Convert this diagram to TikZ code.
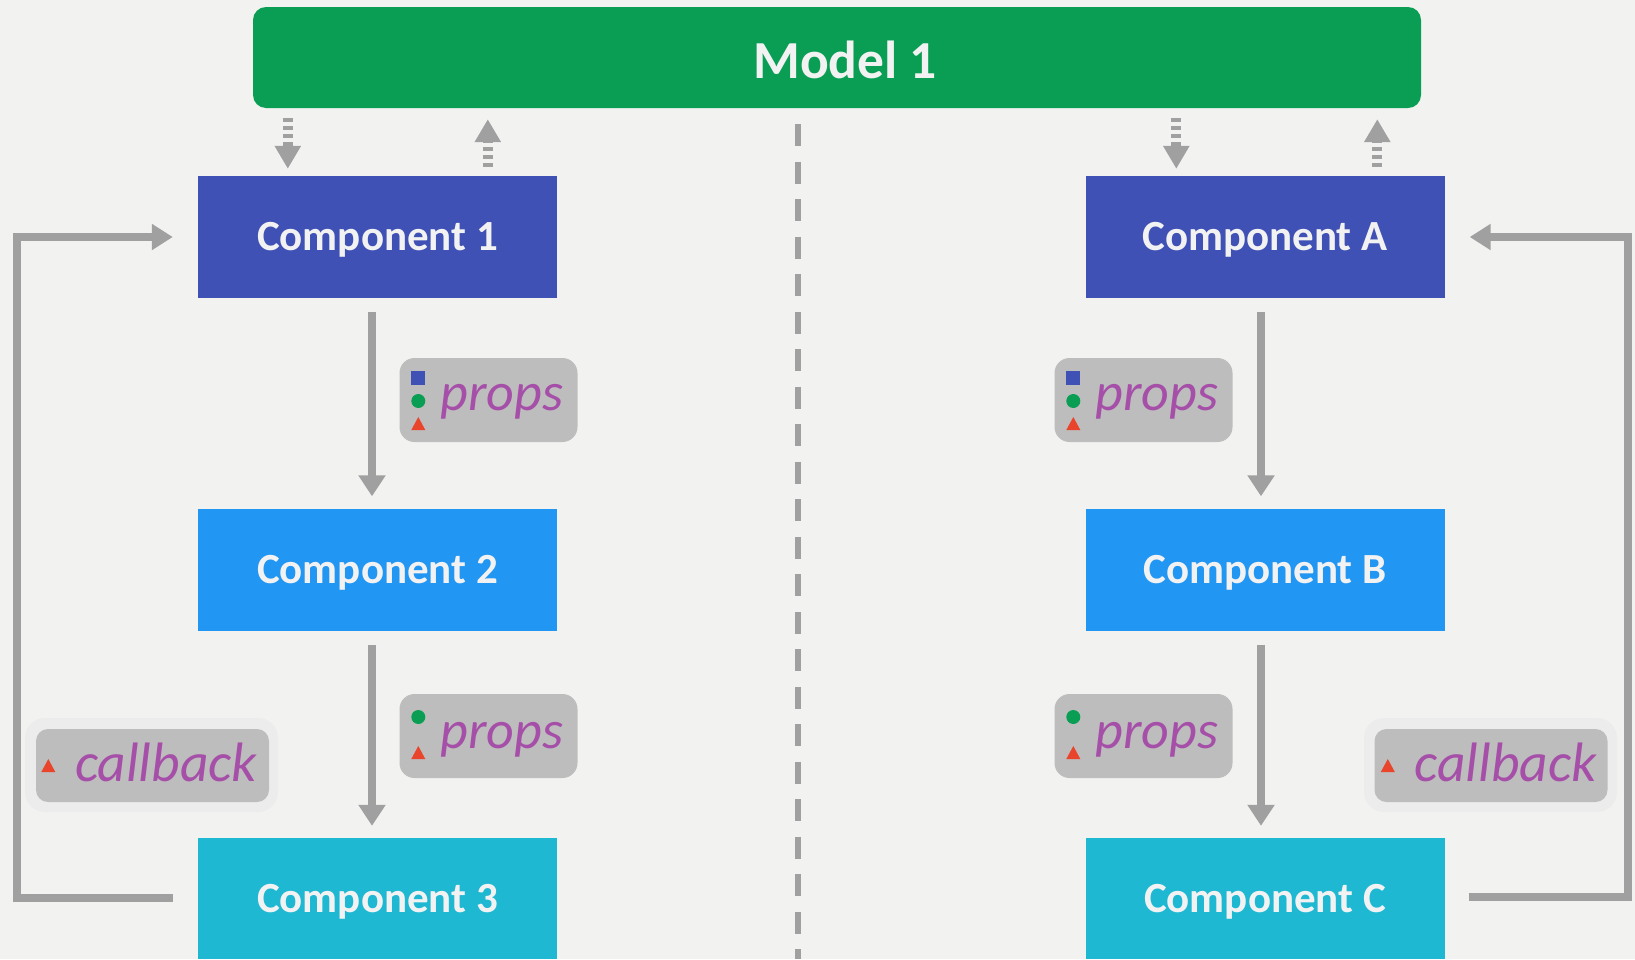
\documentclass[tikz,border=0pt]{standalone}
\usepackage{fontspec}
\setmainfont{Carlito}
\usetikzlibrary{arrows.meta,calc}

\definecolor{bg}{HTML}{F2F2F0}
\definecolor{modelgreen}{HTML}{0A9E55}
\definecolor{indigo}{HTML}{3F51B5}
\definecolor{skyblue}{HTML}{2196F3}
\definecolor{cyanish}{HTML}{1FB8D3}
\definecolor{arrowgray}{HTML}{A0A0A0}
\definecolor{tagfill}{HTML}{BDBDBD}
\definecolor{tagtext}{HTML}{A64FA9}
\definecolor{iconred}{HTML}{E8452C}
\definecolor{halo}{HTML}{ECECEC}
\definecolor{lighttext}{HTML}{F2F2F2}

\tikzset{
  model/.style={fill=modelgreen, rounded corners=13pt, minimum width=1168pt,
    minimum height=101pt, inner sep=0pt},
  modelword/.style={inner sep=0pt, text=lighttext,
    font=\fontsize{53.5}{60}\selectfont\bfseries},
  comp/.style={minimum width=359pt, minimum height=122pt, inner sep=0pt,
    text=lighttext, font=\fontsize{43}{50}\selectfont\bfseries,
    text depth=0pt, text height=27pt},
  tag/.style={fill=tagfill, rounded corners=15pt, minimum width=178pt,
    minimum height=84pt, inner sep=0pt},
  cbtag/.style={fill=tagfill, rounded corners=12pt, minimum width=233pt,
    minimum height=73pt, inner sep=0pt},
  cbhalo/.style={fill=halo, rounded corners=20pt, minimum width=253pt,
    minimum height=94pt, inner sep=0pt},
  tagword/.style={anchor=base west, inner sep=0pt, text=tagtext,
    font=\fontsize{54}{60}\selectfont\itshape},
  cbword/.style={tagword, font=\fontsize{55.5}{60}\selectfont\itshape},
  flow/.style={draw=arrowgray, line width=8pt,
    -{Triangle[width=26pt,length=21pt]}, shorten <=14pt, shorten >=12pt},
  loopline/.style={draw=arrowgray, line width=8pt, line join=miter,
    -{Triangle[width=25pt,length=21pt]}, shorten <=25pt, shorten >=25pt},
  sync/.style={draw=arrowgray, line width=10pt, dash pattern=on 4pt off 4pt,
    -{Triangle[width=25pt,length=23pt]}},
  divider/.style={draw=arrowgray, line width=6pt, dash pattern=on 22pt off 15.5pt},
}

% icon helpers: square, dot and triangle markers inside the tags
\newcommand{\iconsquare}[1]{\fill[indigo] ($(#1)+(-7,-7)$) rectangle ($(#1)+(7,7)$);}
\newcommand{\icondot}[1]{\fill[modelgreen] (#1) circle (7pt);}
\newcommand{\icontri}[1]{\fill[iconred] ($(#1)+(-7,6.5)$) -- ($(#1)+(7,6.5)$) -- ($(#1)+(0,-6.5)$) -- cycle;}

\begin{document}
\begin{tikzpicture}[x=1pt,y=-1pt]
  % canvas
  \fill[bg] (0,0) rectangle (1635,959);
  \useasboundingbox (0,0) rectangle (1635,959);

  % model and components
  \node[model] (m) at (837,57.5) {};
  \node[modelword] (mt) at ($(m.center)+(8,2)$) {Model 1};

  \node[comp, fill=indigo]  (c1) at (377.5,237)   {Component 1};
  \node[comp, fill=skyblue] (c2) at (377.5,569.5) {Component 2};
  \node[comp, fill=cyanish, minimum height=121pt] (c3) at (377.5,898.5) {Component 3};

  \node[comp, fill=indigo]  (ca) at (1265,237)   {Component A};
  \node[comp, fill=skyblue] (cb) at (1265,569.5) {Component B};
  \node[comp, fill=cyanish, minimum height=121pt] (cc) at (1265,898.5) {Component C};

  % divider between the two trees
  \coordinate (divtop) at (798,124);
  \coordinate (divbot) at (798,959);
  \draw[divider] (divtop) -- (divbot);

  % model <-> component sync arrows
  \coordinate (s1) at ($(c1.north west)+(90,0)$);
  \coordinate (s2) at ($(c1.north west)+(290,0)$);
  \coordinate (sa) at ($(ca.north west)+(91,0)$);
  \coordinate (sb) at ($(ca.north west)+(292,0)$);
  \draw[sync, shorten <=10pt, shorten >=7pt] (s1 |- m.south) -- (s1);
  \draw[sync, shorten <=9pt, shorten >=11pt] (s2) -- (s2 |- m.south);
  \draw[sync, shorten <=10pt, shorten >=7pt] (sa |- m.south) -- (sa);
  \draw[sync, shorten <=9pt, shorten >=11pt] (sb) -- (sb |- m.south);

  % props flow
  \draw[flow] ([xshift=-5.5pt]c1.south) -- ([xshift=-5.5pt]c2.north);
  \draw[flow] ([xshift=-5.5pt]c2.south) -- ([xshift=-5.5pt]c3.north);
  \draw[flow] ([xshift=-4pt]ca.south) -- ([xshift=-4pt]cb.north);
  \draw[flow] ([xshift=-4pt]cb.south) -- ([xshift=-4pt]cc.north);

  % callback loops
  \coordinate (lx) at (16.5,0);
  \coordinate (rx) at (1628,0);
  \draw[loopline] ([yshift=0.5pt]c3.west) -- ([yshift=0.5pt]c3.west -| lx) |- (c1.west);
  \draw[loopline, shorten <=24pt] ([yshift=1.5pt]cc.east) -- ([yshift=1.5pt]cc.east -| rx) |- (ca.east);

  % props tags
  \node[tag] (p1) at (488.5,400) {};
  \iconsquare{$(p1.west)+(19,-22)$}
  \icondot{$(p1.west)+(19,1)$}
  \icontri{$(p1.west)+(19,23.5)$}
  \node[tagword] (p1t) at ($(p1.west)+(41,10)$) {props};

  \node[tag] (p2) at (488.5,736) {};
  \icondot{$(p2.west)+(19,-19)$}
  \icontri{$(p2.west)+(19,16.5)$}
  \node[tagword] (p2t) at ($(p2.west)+(41,12)$) {props};

  \node[tag] (pa) at (1143.5,400) {};
  \iconsquare{$(pa.west)+(19,-22)$}
  \icondot{$(pa.west)+(19,1)$}
  \icontri{$(pa.west)+(19,23.5)$}
  \node[tagword] (pat) at ($(pa.west)+(41,10)$) {props};

  \node[tag] (pb) at (1143.5,736) {};
  \icondot{$(pb.west)+(19,-19)$}
  \icontri{$(pb.west)+(19,16.5)$}
  \node[tagword] (pbt) at ($(pb.west)+(41,12)$) {props};

  % callback tags
  \node[cbhalo] (h3) at (151.5,765) {};
  \node[cbtag] (k3) at (152.5,765.5) {};
  \icontri{$(k3.west)+(12.5,0)$}
  \node[cbword] (k3t) at ($(k3.west)+(39,16)$) {callback};

  \node[cbhalo] (hc) at (1490.5,765) {};
  \node[cbtag] (kc) at (1491,765.5) {};
  \icontri{$(kc.west)+(13.5,0)$}
  \node[cbword] (kct) at ($(kc.west)+(40,16)$) {callback};
\end{tikzpicture}
\end{document}
